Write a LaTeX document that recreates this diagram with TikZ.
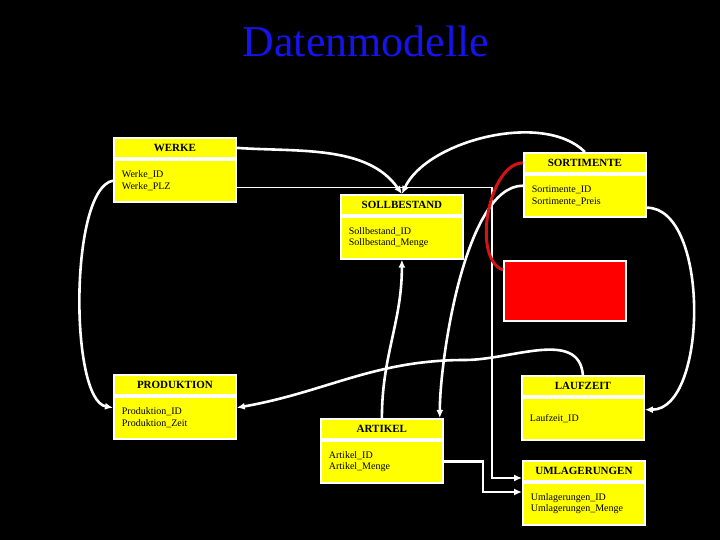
\documentclass[tikz,border=0pt]{standalone}
\usepackage{fontspec}
\setmainfont{Liberation Serif}
\usepackage{tikz}
\usetikzlibrary{
  arrows.meta,
  positioning,
  calc
}
\definecolor{tablefill}{RGB}{255,255,0}
\definecolor{linkred}{RGB}{210,20,20}
\definecolor{titleblue}{RGB}{20,20,235}

\begin{document}
\begin{tikzpicture}[x=1pt,y=1pt,
  head/.style={rectangle,draw=white,line width=1.8pt,fill=tablefill,minimum width=122pt,minimum height=20pt,inner sep=2pt,anchor=north west,font=\fontsize{11}{13}\selectfont\bfseries},
  body/.style={rectangle,draw=white,line width=1.8pt,fill=tablefill,text width=106pt,inner xsep=8pt,minimum height=42pt,align=left,font=\fontsize{10}{11.5}\selectfont},
  blank/.style={rectangle,draw=white,line width=1.8pt,fill=red,minimum width=122pt,minimum height=60pt,anchor=north west},
  arrow/.style={-{Latex[length=8pt,width=7pt]},draw=white,line width=2.6pt},
  link/.style={-{Latex[length=8pt,width=7pt]},draw=white,line width=1.4pt},
  redlink/.style={draw=linkred,line width=3pt},
]
\fill[black] (0,0) rectangle (720,540);
\node[font=\fontsize{44}{44}\selectfont,text=titleblue] (title) at (366,499) {Datenmodelle};

% tables
\node[head] (werkeH) at (113,403) {WERKE};
\node[body,below=0pt of werkeH] (werkeB) {Werke\_ID\\Werke\_PLZ};
\node[head] (sollH) at (340,346) {SOLLBESTAND};
\node[body,below=0pt of sollH] (sollB) {Sollbestand\_ID\\Sollbestand\_Menge};
\node[head] (sortH) at (523,388) {SORTIMENTE};
\node[body,below=0pt of sortH] (sortB) {Sortimente\_ID\\Sortimente\_Preis};
\node[blank] (redbox) at (503,280) {};
\node[head] (prodH) at (113,166) {PRODUKTION};
\node[body,below=0pt of prodH] (prodB) {Produktion\_ID\\Produktion\_Zeit};
\node[head] (artH) at (320,122) {ARTIKEL};
\node[body,below=0pt of artH] (artB) {Artikel\_ID\\Artikel\_Menge};
\node[head] (laufH) at (521,165) {LAUFZEIT};
\node[body,below=0pt of laufH] (laufB) {Laufzeit\_ID};
\node[head] (umlH) at (522,80) {UMLAGERUNGEN};
\node[body,below=0pt of umlH] (umlB) {Umlagerungen\_ID\\Umlagerungen\_Menge};

\coordinate (umlbendA) at (492,62);
\coordinate (umlbendB) at (483,48);
\coordinate (laufbend) at (465,180);

% links
\draw[arrow] (werkeH.east) to[out=-4,in=125,looseness=0.9] (sollH.north);
\draw[arrow] (sortH.north) to[out=135,in=65,looseness=0.8] (sollH.north);
\draw[link] ([yshift=-7pt]werkeB.east) -| (umlbendA) -- (umlbendA -| umlH.west);
\draw[arrow] (artB.east) -| (umlbendB) -- (umlbendB -| umlB.west);
\draw[arrow] (artH.north) to[out=90,in=-90] (sollB.south);
\draw[arrow] (laufH.north) to[out=95,in=0] (laufbend) to[out=180,in=10] ([yshift=10pt]prodB.east);
\draw[arrow] ([yshift=10pt]sortB.west) to[out=180,in=90,looseness=0.6] ([xshift=-4pt]artH.north east);
\draw[redlink] (sortH.west) to[out=180,in=160,looseness=0.8] ([yshift=-10pt]redbox.north west);
\draw[arrow] (werkeB.west) to[out=190,in=170,looseness=0.5] ([yshift=10pt]prodB.west);
\draw[arrow] ([yshift=-12pt]sortB.east) to[out=0,in=0,looseness=0.8] ([yshift=9pt]laufB.east);
\end{tikzpicture}
\end{document}
